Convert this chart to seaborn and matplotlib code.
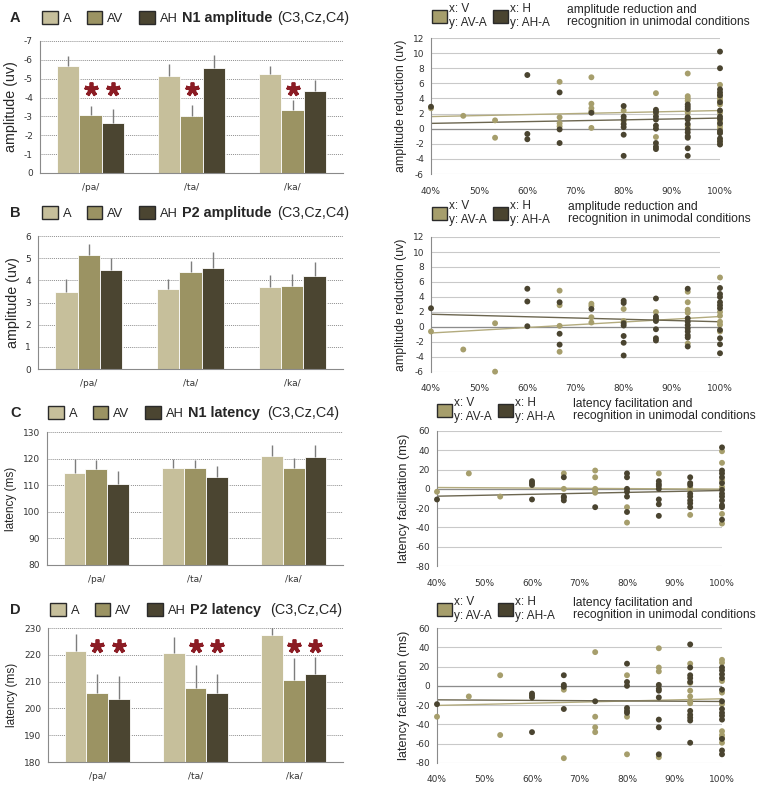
import numpy as np
import pandas as pd
import seaborn as sns
import matplotlib.pyplot as plt
from matplotlib.patches import Patch

syllables = ["/pa/", "/ta/", "/ka/"]
conds = ["A", "AV", "AH"]
bar_colors = ["#c6bf9b", "#9b9363", "#4b4531"]

# bar heights and error bar ends, order /pa/, /ta/, /ka/
n1_amp = {"A": [-5.65, -5.13, -5.27], "AV": [-3.1, -3.02, -3.32], "AH": [-2.63, -5.57, -4.33]}
n1_amp_top = {"A": [-6.19, -5.76, -5.66], "AV": [-3.55, -3.6, -3.87], "AH": [-3.4, -6.26, -4.92]}
n1_amp_stars = [("/pa/", "AV"), ("/pa/", "AH"), ("/ta/", "AV"), ("/ka/", "AV")]

p2_amp = {"A": [3.47, 3.6, 3.72], "AV": [5.13, 4.38, 3.76], "AH": [4.45, 4.54, 4.21]}
p2_amp_top = {"A": [4.05, 4.08, 4.26], "AV": [5.65, 4.86, 4.3], "AH": [5.01, 5.27, 4.83]}

n1_lat = {"A": [114.4, 116.6, 121.1], "AV": [116.0, 116.5, 116.5], "AH": [110.4, 113.1, 120.5]}
n1_lat_top = {"A": [120.0, 120.0, 125.1], "AV": [119.4, 119.3, 120.1], "AH": [115.4, 117.1, 125.3]}

p2_lat = {"A": [221.3, 220.7, 227.3], "AV": [205.8, 207.5, 210.6], "AH": [203.4, 205.8, 212.9]}
p2_lat_top = {"A": [227.6, 226.5, 231.0], "AV": [212.9, 216.1, 218.8], "AH": [212.1, 212.7, 219.3]}
p2_lat_stars = [("/pa/", "AV"), ("/pa/", "AH"), ("/ta/", "AV"), ("/ta/", "AH"), ("/ka/", "AV"), ("/ka/", "AH")]

# scatter: recognition (%) -> differences
amp_n1_v = {40: [2.7], 46.7: [1.7], 53.3: [1.1, -1.2], 66.7: [6.2, 1.5, 0.7, 0.3],
            73.3: [6.8, 3.3, 2.7, 2.3, 0.1], 80: [2.4, 1.0], 86.7: [4.7, 2.0, -1.1],
            93.3: [7.3, 4.3, 4.0, 3.7, 2.1, 1.5, 0.3],
            100: [5.8, 4.5, 4.1, 3.8, 3.2, 2.1, 1.0, 0.35, 0.0, -0.5, -1.5, -2.0]}
amp_n1_h = {40: [2.9], 60: [7.1, -0.7, -1.4], 66.7: [4.8, -0.1, -1.9], 73.3: [2.1],
            80: [3.0, 1.6, 1.2, 0.6, 0.2, -0.8, -3.6],
            86.7: [2.5, 2.2, 1.6, 1.2, 0.4, 0.0, -1.9, -2.4, -2.7],
            93.3: [3.2, 2.9, 2.6, 1.5, 1.2, 0.6, -0.1, -0.5, -1.0, -1.2, -2.6, -3.6],
            100: [10.2, 8.0, 5.2, 4.8, 4.4, 3.5, 2.4, 1.6, 1.3, 0.7, -0.3, -0.6, -1.3, -1.7, -2.1]}
amp_n1_trend = {"V": [1.6, 2.4], "H": [0.7, 1.4]}

amp_p2_v = {40: [-0.6], 46.7: [-3.0], 53.3: [0.5, -5.95], 66.7: [4.85, 2.9, 0.15, -3.3],
            73.3: [3.1, 2.8, 1.3, 0.6], 80: [2.4, 0.8], 86.7: [2.0, 1.0],
            93.3: [4.7, 3.3, 2.3, 1.9, -2.2], 100: [6.6, 2.0, 1.5, 0.7, 0.3, -0.6]}
amp_p2_h = {40: [2.5], 60: [5.1, 3.4, 0.1], 66.7: [3.3, -0.9, -2.35], 73.3: [2.4],
            80: [3.5, 3.2, 0.5, 0.2, -1.2, -2.1, -3.8],
            86.7: [3.8, 1.4, 1.1, 0.8, -0.3, -1.5, -1.8],
            93.3: [5.1, 1.15, 0.7, 0.25, -0.2, -0.6, -1.1, -1.4, -2.6],
            100: [5.2, 4.4, 4.0, 3.3, 2.9, 2.5, -0.4, -1.5, -2.3, -3.5]}
amp_p2_trend = {"V": [-0.8, 1.4], "H": [1.7, 0.7]}

lat_n1_v = {40: [-3], 46.7: [16], 53.3: [-8], 66.7: [16, 0], 73.3: [19, 12, 0, -2, -4],
            80: [-19, -35], 86.7: [16], 93.3: [1, -1, -27], 100: [39, 27, 9, 2, -26, -36]}
lat_n1_h = {40: [-11], 60: [8, 6, 4, -11], 66.7: [12, -8, -9, -12], 73.3: [-19],
            80: [16, 12, 0, -3, -8, -24], 86.7: [8, 5, 3, 0, -11, -16, -28],
            93.3: [12, 6, 4, -5, -8, -12, -15, -19],
            100: [43, 19, 16, 12, 6, -1, -5, -8, -12, -17, -19, -32]}
lat_n1_trend = {"V": [1.4, -0.3], "H": [-7.6, -1.7]}

lat_p2_v = {40: [-32], 46.7: [-11], 53.3: [11, -51], 66.7: [-4, -75], 73.3: [35, -32, -43, -48],
            80: [11, -32, -71], 86.7: [39, 19, 15, -74], 93.3: [23, 3, -5, -11, -16, -18],
            100: [27, 24, 5, -7, -19, -47, -51, -54, -59]}
lat_p2_h = {40: [-19], 60: [-8, -10, -12, -48], 66.7: [11, 1, -1, -24], 73.3: [-16],
            80: [23, 4, 0, -23, -26, -28], 86.7: [1, -3, -5, -12, -35, -43, -71],
            93.3: [43, 19, 11, 8, 4, -26, -30, -33, -36, -59],
            100: [19, 16, 12, 8, -4, -16, -24, -28, -31, -35, -55, -67, -71]}
lat_p2_trend = {"V": [-20.3, -13.4], "H": [-14.5, -16.2]}

v_color = "#a69e6c"
h_color = "#4a4430"
star_color = "#8b1c24"

sns.set_style("white")
plt.rcParams["font.family"] = ["Liberation Sans", "DejaVu Sans"]
plt.rcParams["axes.unicode_minus"] = False

W, H = 764, 787
fig = plt.figure(figsize=(W / 100, H / 100), dpi=100)


def px_box(x0, y0, x1, y1):
    return [x0 / W, 1 - y1 / H, (x1 - x0) / W, (y1 - y0) / H]


def fx(x):
    return x / W


def fy(y):
    return 1 - y / H


def bar_panel(box, values, tops, ylim, step, ylabel, label_size, stars=None, star_y=None):
    ax = fig.add_axes(px_box(*box))
    df = pd.DataFrame([(s, c, values[c][i]) for c in conds for i, s in enumerate(syllables)],
                      columns=["syll", "cond", "value"])
    sns.barplot(data=df, x="syll", y="value", hue="cond", order=syllables, hue_order=conds,
                palette=bar_colors, saturation=1, width=0.66, errorbar=None,
                edgecolor="white", linewidth=0.6, legend=False, ax=ax, zorder=2)
    centers = {}
    for bar in ax.patches:
        x = bar.get_x() + bar.get_width() / 2
        i = int(round(x))
        k = int(round((x - i) / bar.get_width())) + 1
        centers[(syllables[i], conds[k])] = x
        ax.vlines(x, values[conds[k]][i], tops[conds[k]][i], color="#7d7d7d", lw=1, zorder=3)
    if stars:
        sx = [centers[key] for key in stars]
        ax.plot(sx, [star_y] * len(sx), linestyle="none", marker=(5, 2, 0), ms=10, mew=2.7,
                color=star_color, zorder=4)
    ax.set_ylim(*ylim)
    lo, hi = sorted(ylim)
    ax.set_yticks(np.arange(lo, hi + step / 2, step))
    ax.set_xlim(-0.5, 2.5)
    ax.set_xticks([-0.5, 0.5, 1.5, 2.5], minor=True)
    ax.tick_params(axis="x", which="major", length=0, pad=7, labelsize=6.5, labelcolor="#333333")
    ax.tick_params(axis="x", which="minor", length=4, color="#8a8a8a", direction="out")
    ax.tick_params(axis="y", length=3, color="#8a8a8a", labelsize=6.5, labelcolor="#333333", pad=2)
    for lab in ax.get_xticklabels() + ax.get_yticklabels():
        lab.set_family("DejaVu Sans")
    ax.yaxis.grid(True, linestyle=(0, (1, 1)), color="#8f8f8f", lw=0.7)
    ax.set_axisbelow(True)
    for sp in ["top", "right"]:
        ax.spines[sp].set_visible(False)
    for sp in ["left", "bottom"]:
        ax.spines[sp].set_color("#8a8a8a")
        ax.spines[sp].set_linewidth(0.8)
    ax.set_xlabel("")
    ax.set_ylabel(ylabel, fontsize=label_size, labelpad=4)
    return ax


def bar_header(ax, letter, y, x_leg, x_title, x_paren, title):
    fig.text(fx(10), fy(y), letter, fontsize=10.5, fontweight="bold", va="center")
    handles = [Patch(facecolor=c, edgecolor="#2a2a2a", linewidth=1) for c in bar_colors]
    ax.legend(handles, conds, ncol=3, loc="center left", bbox_to_anchor=(fx(x_leg), fy(y)),
              bbox_transform=fig.transFigure, frameon=False, fontsize=9.3, handlelength=1.2,
              handleheight=1.2, handletextpad=0.4, columnspacing=1.2, borderpad=0, borderaxespad=0)
    fig.text(fx(x_title), fy(y), title, fontsize=10.4, fontweight="bold", va="center")
    fig.text(fx(x_paren), fy(y), "(C3,Cz,C4)", fontsize=10.4, va="center")


def scatter_panel(box, v_data, h_data, trend, ylim, step, ylabel, label_size):
    ax = fig.add_axes(px_box(*box))
    rows = [(x, y, "V") for x, ys in v_data.items() for y in ys]
    rows += [(x, y, "H") for x, ys in h_data.items() for y in ys]
    df = pd.DataFrame(rows, columns=["recog", "diff", "grp"])
    ax.axhline(0, color="#8c8c8c", lw=0.9, zorder=1)
    sns.lineplot(x=[40, 100], y=trend["V"], color="#b3ab7e", lw=1, ax=ax, zorder=2)
    sns.lineplot(x=[40, 100], y=trend["H"], color="#6c6650", lw=1, ax=ax, zorder=2)
    sns.scatterplot(data=df, x="recog", y="diff", hue="grp", palette={"V": v_color, "H": h_color},
                    s=18, linewidth=0, legend=False, ax=ax, clip_on=False, zorder=3)
    ax.set_xlim(40, 100)
    ax.set_ylim(*ylim)
    ax.set_yticks(np.arange(ylim[0], ylim[1] + step / 2, step))
    ax.set_xticks(np.arange(40, 101, 10))
    ax.set_xticklabels([f"{v}%" for v in range(40, 101, 10)])
    ax.yaxis.grid(True, color="#c9c9c9", lw=0.8)
    ax.set_axisbelow(True)
    for sp in ["top", "right", "bottom"]:
        ax.spines[sp].set_visible(False)
    ax.spines["left"].set_color("#8a8a8a")
    ax.spines["left"].set_linewidth(0.8)
    ax.tick_params(axis="x", length=0, pad=9, labelsize=6.5, labelcolor="#333333")
    ax.tick_params(axis="y", length=3, color="#8a8a8a", labelsize=6.5, labelcolor="#333333", pad=2)
    for lab in ax.get_xticklabels() + ax.get_yticklabels():
        lab.set_family("DejaVu Sans")
    ax.set_xlabel("")
    ax.set_ylabel(ylabel, fontsize=label_size, labelpad=4)
    return ax


def scatter_header(ax, y, x_leg, x_title, title):
    handles = [Patch(facecolor=c, edgecolor="#2a2a2a", linewidth=1) for c in [v_color, h_color]]
    ax.legend(handles, ["x: V\ny: AV-A", "x: H\ny: AH-A"], ncol=2, loc="center left",
              bbox_to_anchor=(fx(x_leg), fy(y)), bbox_transform=fig.transFigure, frameon=False,
              fontsize=8.5, handlelength=1.25, handleheight=1.25, handletextpad=0.2,
              columnspacing=0.5, borderpad=0, borderaxespad=0, labelspacing=0)
    fig.text(fx(x_title), fy(y), title, fontsize=8.7, va="center", linespacing=1.05)


ax = bar_panel([40, 41, 343, 173], n1_amp, n1_amp_top, (0, -7), 1, "amplitude (uv)", 10.3,
               n1_amp_stars, -4.47)
bar_header(ax, "A", 18, 42, 182, 277, "N1 amplitude")
ax = bar_panel([38, 236, 343, 369], p2_amp, p2_amp_top, (0, 6), 1, "amplitude (uv)", 10.3)
bar_header(ax, "B", 213, 42, 182, 277, "P2 amplitude")
ax = bar_panel([47, 432, 343, 565], n1_lat, n1_lat_top, (80, 130), 10, "latency (ms)", 8.5)
bar_header(ax, "C", 413, 48, 188, 267, "N1 latency")
ax = bar_panel([48, 628, 343, 762], p2_lat, p2_lat_top, (180, 230), 10, "latency (ms)", 8.5,
               p2_lat_stars, 223.2)
bar_header(ax, "D", 610, 50, 190, 270, "P2 latency")

ax = scatter_panel([431, 38, 720, 174], amp_n1_v, amp_n1_h, amp_n1_trend, (-6, 12), 2,
                   "amplitude reduction (uv)", 8.8)
scatter_header(ax, 16, 432, 567, "amplitude reduction and\nrecognition in unimodal conditions")
ax = scatter_panel([431, 237, 720, 372], amp_p2_v, amp_p2_h, amp_p2_trend, (-6, 12), 2,
                   "amplitude reduction (uv)", 8.8)
scatter_header(ax, 213, 432, 568, "amplitude reduction and\nrecognition in unimodal conditions")
ax = scatter_panel([437, 431, 722, 566], lat_n1_v, lat_n1_h, lat_n1_trend, (-80, 60), 20,
                   "latency facilitation (ms)", 9.1)
scatter_header(ax, 410, 437, 573, "latency facilitation and\nrecognition in unimodal conditions")
ax = scatter_panel([437, 628, 722, 763], lat_p2_v, lat_p2_h, lat_p2_trend, (-80, 60), 20,
                   "latency facilitation (ms)", 9.1)
scatter_header(ax, 609, 437, 573, "latency facilitation and\nrecognition in unimodal conditions")

fig.savefig("out.png", dpi=100)
